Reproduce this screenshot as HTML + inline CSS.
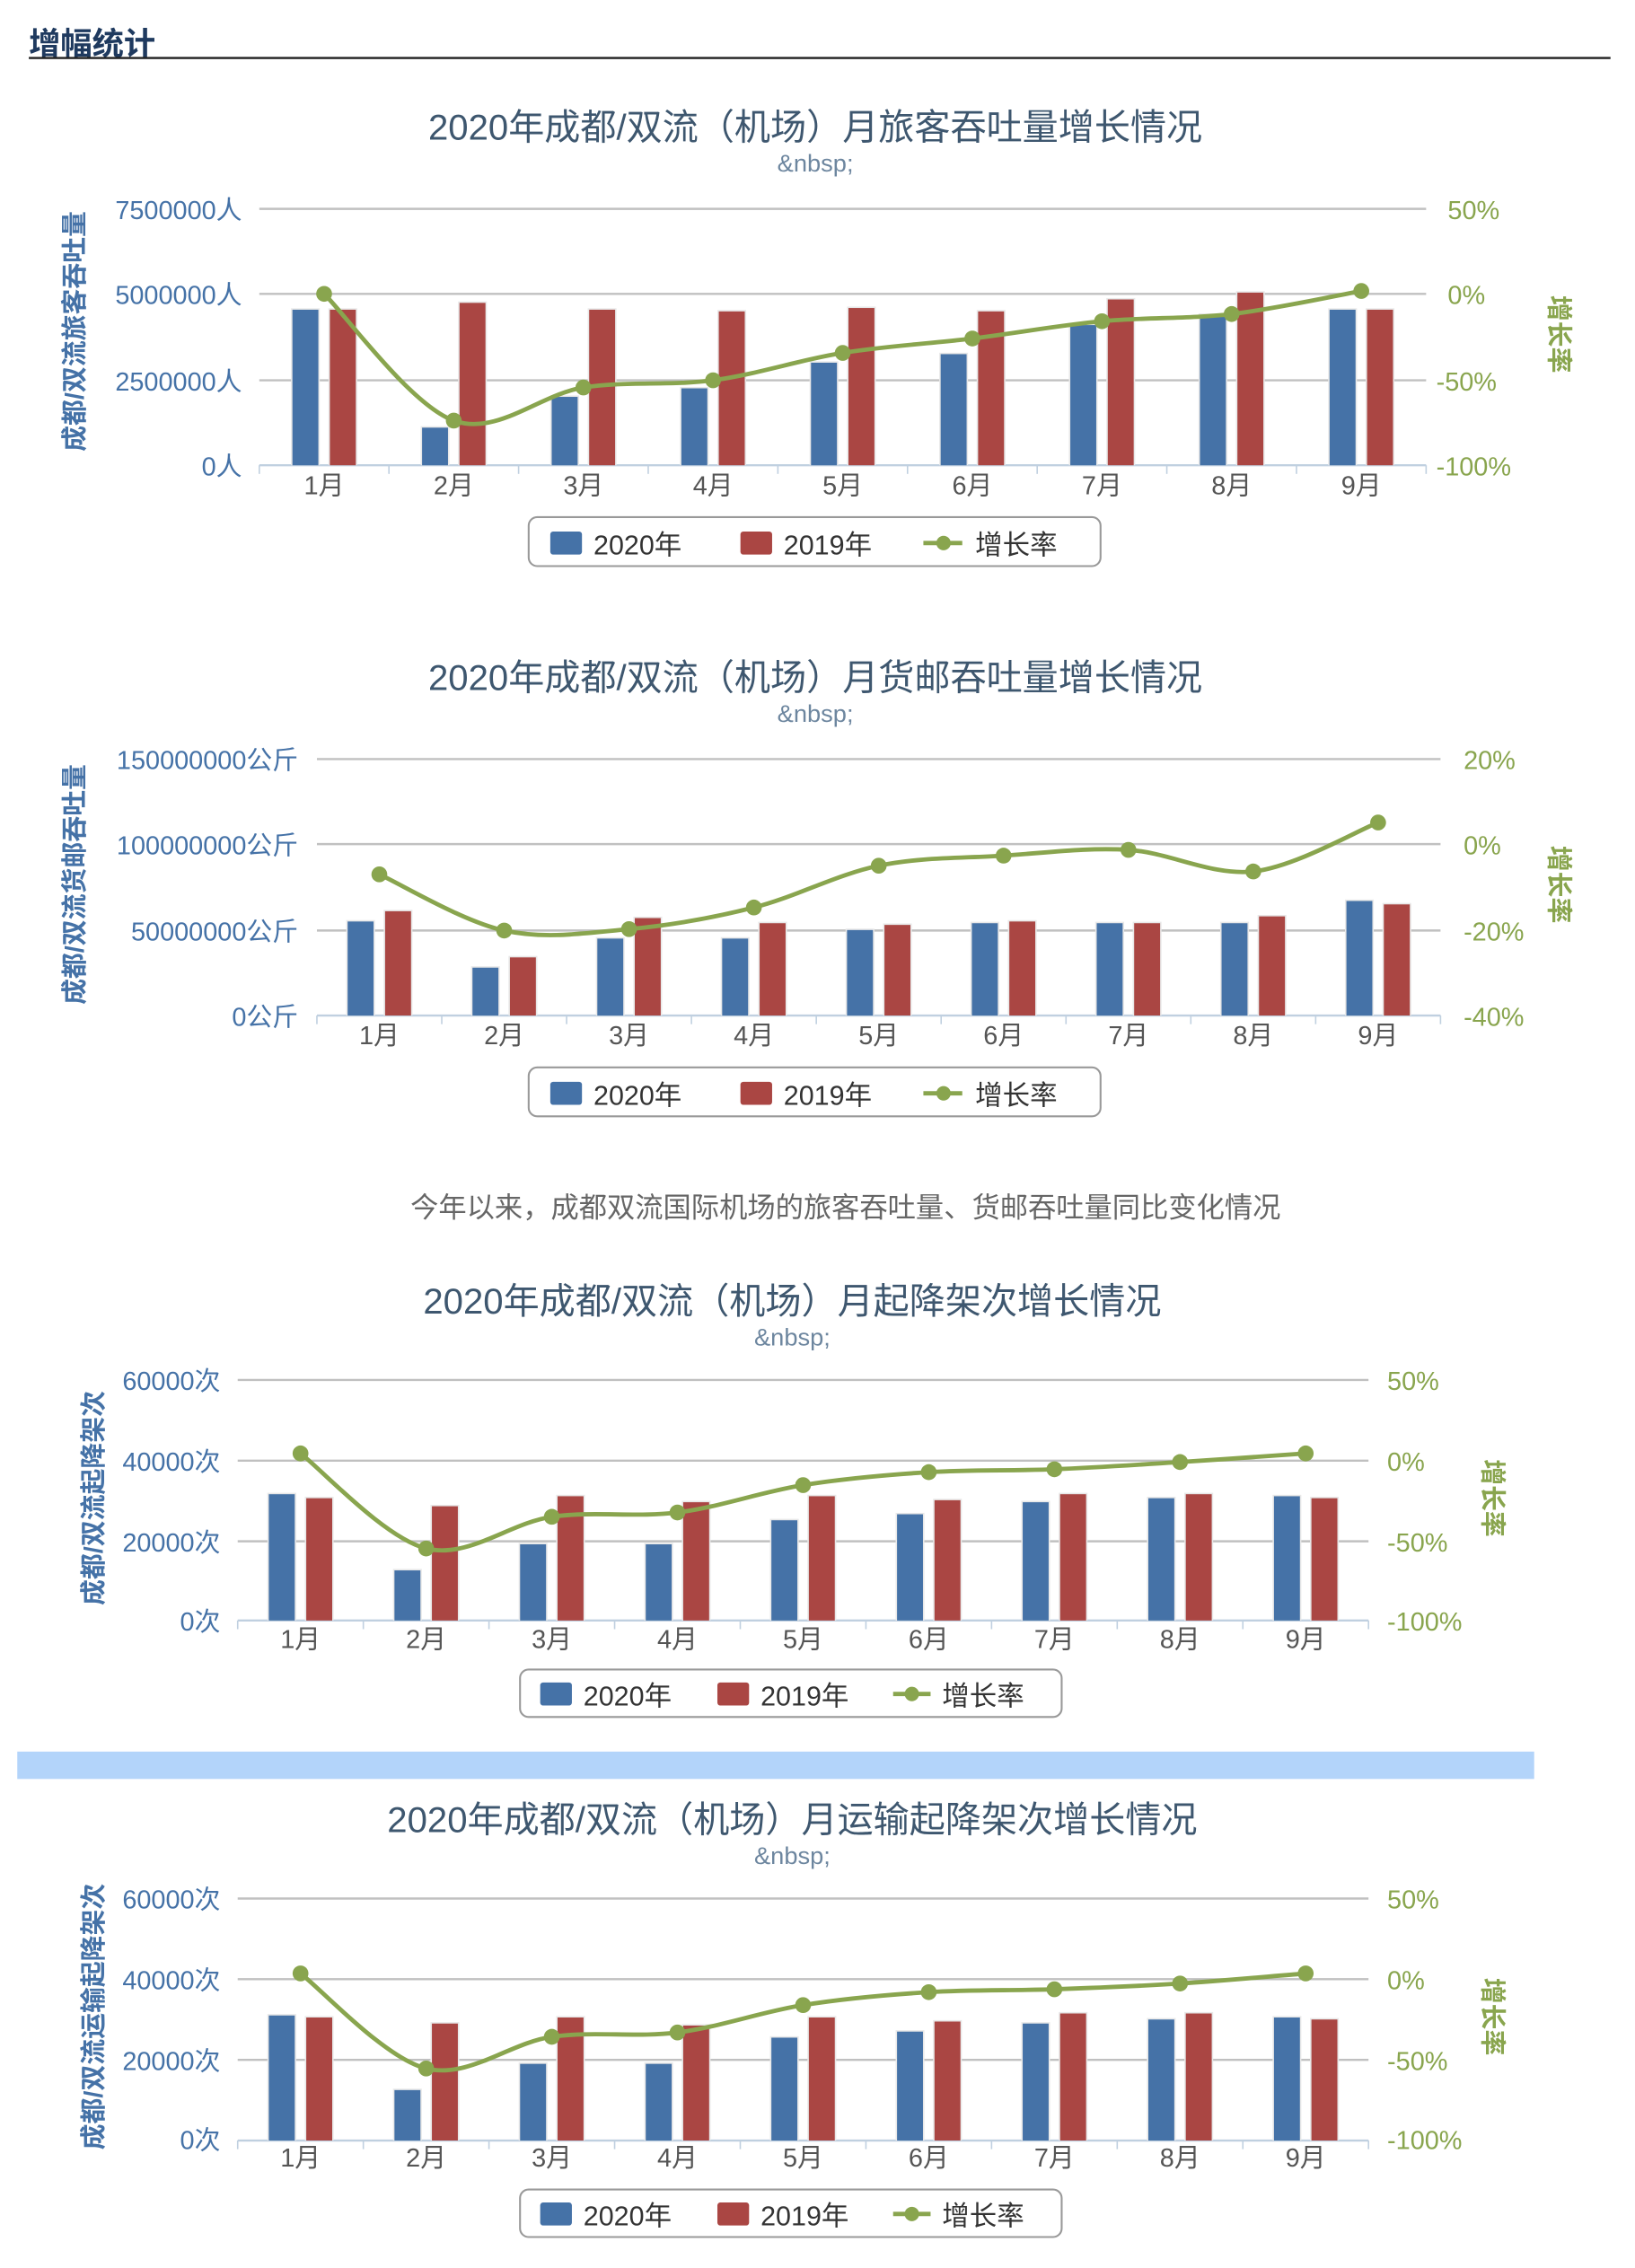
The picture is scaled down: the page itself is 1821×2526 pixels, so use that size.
<!DOCTYPE html>
<html><head><meta charset="utf-8"><style>
html,body{margin:0;padding:0;background:#fff;}
svg{display:block;}
text{font-family:"Liberation Sans","Noto Sans CJK SC",sans-serif;}
.t{font-size:25px;fill:#3e576f;text-anchor:middle;}
.n{font-size:17px;fill:#6d869f;text-anchor:middle;}
.yl{font-size:18px;fill:#4572a7;text-anchor:end;}
.yr{font-size:18px;fill:#89a54e;}
.m{font-size:18px;fill:#555;text-anchor:middle;}
.lg{font-size:19px;fill:#333;}
.at{font-size:18px;font-weight:bold;fill:#4572a7;text-anchor:middle;}
.rt{font-size:18px;font-weight:bold;fill:#89a54e;text-anchor:middle;}
</style></head><body>
<svg id="s" width="1821" height="2526" viewBox="0 0 1135 1574.5" preserveAspectRatio="none" xmlns="http://www.w3.org/2000/svg">
<text x="20" y="38" style="font-size:22px;font-weight:bold;fill:#1f3a5f">增幅统计</text>
<rect x="20" y="39.5" width="1098" height="1.5" fill="#222"/>

<!-- Chart 1 -->
<text class="t" x="566" y="97">2020年成都/双流（机场）月旅客吞吐量增长情况</text>
<text class="n" x="566" y="119">&amp;nbsp;</text>
<text class="yl" x="168" y="152">7500000人</text>
<text class="yl" x="168" y="211">5000000人</text>
<text class="yl" x="168" y="271">2500000人</text>
<text class="yl" x="168" y="330">0人</text>
<text class="yr" x="1005" y="152">50%</text>
<text class="yr" x="1005" y="211">0%</text>
<text class="yr" x="997" y="271">-50%</text>
<text class="yr" x="997" y="330">-100%</text>
<text class="at" transform="translate(58,230) rotate(-90)">成都/双流旅客吞吐量</text>
<text class="rt" transform="translate(1076,232) rotate(90)">增长率</text>

<!-- Chart 2 -->
<text class="t" x="566" y="479">2020年成都/双流（机场）月货邮吞吐量增长情况</text>
<text class="n" x="566" y="501">&amp;nbsp;</text>
<text class="yl" x="207" y="534">150000000公斤</text>
<text class="yl" x="207" y="593">100000000公斤</text>
<text class="yl" x="207" y="653">50000000公斤</text>
<text class="yl" x="207" y="712">0公斤</text>
<text class="yr" x="1016" y="534">20%</text>
<text class="yr" x="1016" y="593">0%</text>
<text class="yr" x="1016" y="653">-20%</text>
<text class="yr" x="1016" y="712">-40%</text>
<text class="at" transform="translate(58,614) rotate(-90)">成都/双流货邮吞吐量</text>
<text class="rt" transform="translate(1076,614) rotate(90)">增长率</text>

<text x="587" y="845" style="font-size:19.5px;fill:#666;text-anchor:middle">今年以来，成都双流国际机场的旅客吞吐量、货邮吞吐量同比变化情况</text>

<!-- Chart 3 -->
<text class="t" x="550" y="912">2020年成都/双流（机场）月起降架次增长情况</text>
<text class="n" x="550" y="934">&amp;nbsp;</text>
<text class="yl" x="153" y="965">60000次</text>
<text class="yl" x="153" y="1021">40000次</text>
<text class="yl" x="153" y="1077">20000次</text>
<text class="yl" x="153" y="1132">0次</text>
<text class="yr" x="963" y="965">50%</text>
<text class="yr" x="963" y="1021">0%</text>
<text class="yr" x="963" y="1077">-50%</text>
<text class="yr" x="963" y="1132">-100%</text>
<text class="at" transform="translate(71,1040) rotate(-90)">成都/双流起降架次</text>
<text class="rt" transform="translate(1030,1040) rotate(90)">增长率</text>

<rect x="12" y="1216" width="1053" height="19" fill="#b3d4fa"/>

<!-- Chart 4 -->
<text class="t" x="550" y="1272">2020年成都/双流（机场）月运输起降架次增长情况</text>
<text class="n" x="550" y="1294">&amp;nbsp;</text>
<text class="yl" x="153" y="1325">60000次</text>
<text class="yl" x="153" y="1381">40000次</text>
<text class="yl" x="153" y="1437">20000次</text>
<text class="yl" x="153" y="1492">0次</text>
<text class="yr" x="963" y="1325">50%</text>
<text class="yr" x="963" y="1381">0%</text>
<text class="yr" x="963" y="1437">-50%</text>
<text class="yr" x="963" y="1492">-100%</text>
<text class="at" transform="translate(71,1400) rotate(-90)">成都/双流运输起降架次</text>
<text class="rt" transform="translate(1030,1400) rotate(90)">增长率</text>

<g id="months"></g>
<g>
<rect x="367" y="359" width="397" height="34" rx="6" fill="#fff" stroke="#999" stroke-width="1.3"/>
<rect x="382" y="369" width="22" height="16" rx="2" fill="#4572a7"/><text class="lg" x="412" y="385">2020年</text>
<rect x="514" y="369" width="22" height="16" rx="2" fill="#aa4643"/><text class="lg" x="544" y="385">2019年</text>
<line x1="641" y1="377" x2="668" y2="377" stroke="#89a54e" stroke-width="3"/><circle cx="655" cy="377" r="5" fill="#89a54e"/><text class="lg" x="677" y="385">增长率</text>

<rect x="367" y="741" width="397" height="34" rx="6" fill="#fff" stroke="#999" stroke-width="1.3"/>
<rect x="382" y="751" width="22" height="16" rx="2" fill="#4572a7"/><text class="lg" x="412" y="767">2020年</text>
<rect x="514" y="751" width="22" height="16" rx="2" fill="#aa4643"/><text class="lg" x="544" y="767">2019年</text>
<line x1="641" y1="759" x2="668" y2="759" stroke="#89a54e" stroke-width="3"/><circle cx="655" cy="759" r="5" fill="#89a54e"/><text class="lg" x="677" y="767">增长率</text>

<rect x="361" y="1159" width="376" height="33" rx="6" fill="#fff" stroke="#999" stroke-width="1.3"/>
<rect x="375" y="1168" width="22" height="16" rx="2" fill="#4572a7"/><text class="lg" x="405" y="1184">2020年</text>
<rect x="498" y="1168" width="22" height="16" rx="2" fill="#aa4643"/><text class="lg" x="528" y="1184">2019年</text>
<line x1="620" y1="1176" x2="646" y2="1176" stroke="#89a54e" stroke-width="3"/><circle cx="633" cy="1176" r="5" fill="#89a54e"/><text class="lg" x="654" y="1184">增长率</text>

<rect x="361" y="1520" width="376" height="33" rx="6" fill="#fff" stroke="#999" stroke-width="1.3"/>
<rect x="375" y="1529" width="22" height="16" rx="2" fill="#4572a7"/><text class="lg" x="405" y="1545">2020年</text>
<rect x="498" y="1529" width="22" height="16" rx="2" fill="#aa4643"/><text class="lg" x="528" y="1545">2019年</text>
<line x1="620" y1="1537" x2="646" y2="1537" stroke="#89a54e" stroke-width="3"/><circle cx="633" cy="1537" r="5" fill="#89a54e"/><text class="lg" x="654" y="1545">增长率</text>
</g>
<g id="plots"></g>
</svg>
<script>
(function(){
var NS="http://www.w3.org/2000/svg";
var plots=document.getElementById("plots"),months=document.getElementById("months");
function el(t,a,p){var e=document.createElementNS(NS,t);for(var k in a)e.setAttribute(k,a[k]);(p||plots).appendChild(e);return e;}
var charts=[
{L:180,R:990,grid:[145,204,264,323],max:7.5,my:343,
 a:[4.55,1.1,2.0,2.25,3.0,3.25,4.1,4.4,4.55],b:[4.55,4.75,4.55,4.5,4.6,4.5,4.85,5.05,4.55],
 g:[204,292,269,264,245,235,223,218,202]},
{L:220,R:1000,grid:[527,586,646,705],max:150,my:725,
 a:[55,28,45,45,50,54,54,54,67],b:[61,34,57,54,53,55,54,58,65],
 g:[607,646,645,630,601,594,590,605,571]},
{L:165,R:950,grid:[958,1014,1070,1125],max:60,my:1144,
 a:[31.5,12.5,19,19,25,26.5,29.5,30.5,31],b:[30.5,28.5,31,29.5,31,30,31.5,31.5,30.5],
 g:[1009,1075,1053,1050,1031,1022,1020,1015,1009]},
{L:165,R:950,grid:[1318,1374,1430,1486],max:60,my:1504,
 a:[31,12.5,19,19,25.5,27,29,30,30.5],b:[30.5,29,30.5,28.5,30.5,29.5,31.5,31.5,30],
 g:[1370,1436,1414,1411,1392,1383,1381,1377,1370]}
];
charts.forEach(function(c){
 var bot=c.grid[3],top=c.grid[0],h=bot-top,cw=(c.R-c.L)/9;
 c.grid.forEach(function(y,i){ if(i<3) el("line",{x1:c.L,x2:c.R,y1:y,y2:y,stroke:"#c0c0c0","stroke-width":1.5});});
 el("line",{x1:c.L,x2:c.R,y1:bot,y2:bot,stroke:"#c0d0e0","stroke-width":1.5});
 for(var i=0;i<=9;i++){var x=c.L+i*cw;el("line",{x1:x,x2:x,y1:bot,y2:bot+6,stroke:"#c0d0e0","stroke-width":1});}
 var pts=[];
 for(var i=0;i<9;i++){
  var cx=c.L+cw*(i+0.5);
  var ha=c.a[i]/c.max*h,hb=c.b[i]/c.max*h;
  el("rect",{x:cx-23,y:bot-ha-1,width:20,height:ha+1,fill:"#e8e8e8"});
  el("rect",{x:cx+3,y:bot-hb-1,width:20,height:hb+1,fill:"#e8e8e8"});
  el("rect",{x:cx-22,y:bot-ha,width:18,height:ha,fill:"#4572a7"});
  el("rect",{x:cx+4,y:bot-hb,width:18,height:hb,fill:"#aa4643"});
  var t=el("text",{x:cx,y:c.my,"class":"m"},months);t.textContent=(i+1)+"月";
  pts.push([cx,c.g[i]]);
 }
 var d="M"+pts[0][0]+","+pts[0][1];
 for(var i=0;i<8;i++){
  var p0=pts[Math.max(i-1,0)],p1=pts[i],p2=pts[i+1],p3=pts[Math.min(i+2,8)];
  var k=1/6;
  d+=" C"+(p1[0]+(p2[0]-p0[0])*k)+","+(p1[1]+(p2[1]-p0[1])*k)+" "+(p2[0]-(p3[0]-p1[0])*k)+","+(p2[1]-(p3[1]-p1[1])*k)+" "+p2[0]+","+p2[1];
 }
 el("path",{d:d,fill:"none",stroke:"#89a54e","stroke-width":3});
 pts.forEach(function(p){el("circle",{cx:p[0],cy:p[1],r:5.5,fill:"#89a54e"});});
});
})();
</script>
</body></html>
